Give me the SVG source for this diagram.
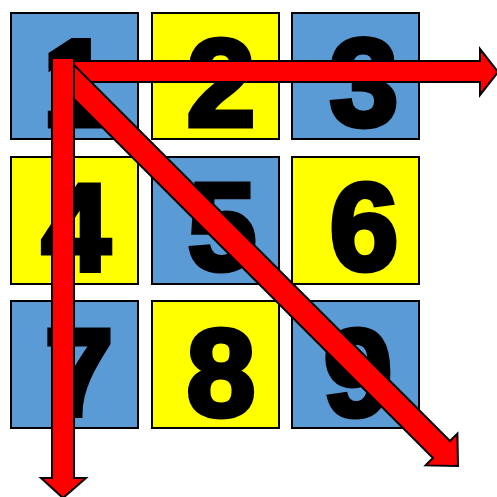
<svg xmlns="http://www.w3.org/2000/svg" width="497" height="497" viewBox="0 0 497 497">
<style>
.sq{stroke:#000;stroke-width:2}
.b{fill:#5B9BD5}
.y{fill:#FFFF00}
.n{font-family:"Liberation Sans",Arial,sans-serif;font-weight:bold;font-size:124px;fill:#000;stroke:#000;stroke-width:5;stroke-linejoin:miter;stroke-miterlimit:3;text-anchor:middle}
.ar{fill:#FF0000;stroke:#000;stroke-width:2;stroke-linejoin:miter}
</style>
<rect width="497" height="497" fill="#fff"/>
<g id="n1"><rect class="sq b" x="11" y="13" width="127" height="126"/><text class="n" x="77" y="126">1</text></g>
<g id="n2"><rect class="sq y" x="152" y="13" width="127" height="126"/><text class="n" x="221" y="126">2</text></g>
<g id="n3"><rect class="sq b" x="292" y="13" width="127" height="126"/><text class="n" x="364" y="126">3</text></g>
<g id="n4"><rect class="sq y" x="11" y="157" width="127" height="127"/><text class="n" x="76" y="270">4</text></g>
<g id="n5"><rect class="sq b" x="152" y="157" width="127" height="127"/><text class="n" x="222" y="270">5</text></g>
<g id="n6"><rect class="sq y" x="292" y="157" width="127" height="127"/><text class="n" x="364" y="270">6</text></g>
<g id="n7"><rect class="sq b" x="11" y="301" width="127" height="127"/><text class="n" x="79" y="416">7</text></g>
<g id="n8"><rect class="sq y" x="152" y="301" width="127" height="127"/><text class="n" x="221" y="416">8</text></g>
<g id="n9"><rect class="sq b" x="292" y="301" width="127" height="127"/><text class="n" x="358" y="416">9</text></g>
<g id="connectors">
<polygon class="ar" points="52,61 480,61 480,49 498,72 480,95 480,82 52,82"/>
<polygon class="ar" points="71.5,62.5 450,441 457.4,433.6 458,466 425.6,465.4 433,458 54.5,79.5"/>
<polygon class="ar" points="52,58 74,58 74,478 86,478 63,498 41,478 52,478"/>
</g>
</svg>
